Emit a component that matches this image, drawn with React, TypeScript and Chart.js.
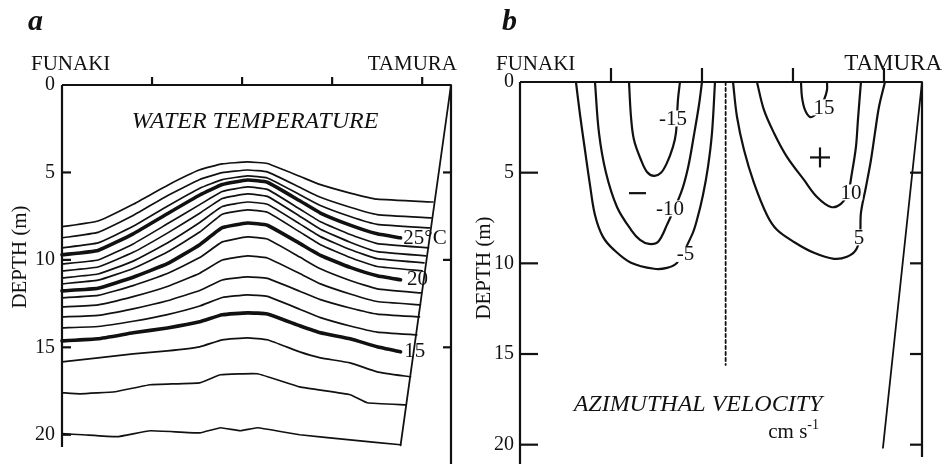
import React, { useEffect, useRef } from "react";
import { Chart, registerables } from "chart.js";

Chart.register(...registerables);

const SERIF = "'Liberation Serif', 'Times New Roman', Times, serif";
const INK = "#111111";

// ---------- shared axes ----------
const depthTicks = [0, 5, 10, 15, 20];
const sectionTicks = [1, 2, 3, 4];

// ---------- panel a : water temperature ----------
const aXMax = 4.32;
const aYMax = 20.7;
const aLeftTicks = [5, 10, 15, 20];
const aRightTicks = [5, 10, 15];
const stationX = [0, 0.4, 0.79, 1.17, 1.53, 1.78, 2.06, 2.28, 2.64, 2.87, 3.2, 3.5];

const iso28 = [8.11, 7.78, 6.82, 5.74, 4.85, 4.51, 4.4, 4.49, 5.22, 5.7, 6.18, 6.53];
const iso27 = [8.74, 8.43, 7.46, 6.33, 5.4, 5.01, 4.86, 4.97, 5.85, 6.42, 6.99, 7.41];
const iso26 = [9.31, 9.03, 8.08, 6.93, 5.9, 5.41, 5.2, 5.32, 6.27, 6.89, 7.52, 7.97];
const iso25 = [9.71, 9.46, 8.51, 7.36, 6.29, 5.69, 5.43, 5.56, 6.62, 7.32, 8.01, 8.51];
const iso24 = [10.23, 10.01, 9.09, 7.94, 6.84, 6.09, 5.83, 5.97, 7.09, 7.82, 8.55, 9.07];
const iso23 = [10.63, 10.41, 9.57, 8.47, 7.33, 6.49, 6.23, 6.37, 7.5, 8.25, 8.99, 9.53];
const iso22 = [11.03, 10.81, 10.07, 9.03, 7.86, 6.95, 6.69, 6.82, 7.94, 8.67, 9.41, 9.93];
const iso21 = [11.37, 11.16, 10.49, 9.55, 8.41, 7.39, 7.14, 7.28, 8.4, 9.13, 9.86, 10.38];
const iso20 = [11.77, 11.62, 10.99, 10.22, 9.13, 8.16, 7.89, 8.02, 9.06, 9.74, 10.43, 10.91];
const iso19 = [12.17, 12.03, 11.47, 10.78, 9.87, 8.97, 8.69, 8.81, 9.84, 10.51, 11.18, 11.66];
const iso18 = [12.69, 12.57, 12.1, 11.52, 10.76, 10.01, 9.77, 9.89, 10.78, 11.37, 11.95, 12.38];
const iso17 = [13.26, 13.17, 12.8, 12.34, 11.75, 11.15, 10.97, 11.06, 11.79, 12.27, 12.75, 13.1];
const iso16 = [13.89, 13.81, 13.51, 13.13, 12.64, 12.15, 12.0, 12.09, 12.82, 13.3, 13.78, 14.13];
const iso15 = [14.63, 14.51, 14.17, 13.89, 13.54, 13.14, 13.03, 13.09, 13.77, 14.17, 14.51, 14.97];
const iso14 = [15.83, 15.6, 15.37, 15.2, 14.97, 14.57, 14.46, 14.57, 15.26, 15.6, 15.89, 16.4];

const isoLevels = [28, 27, 26, 25, 24, 23, 22, 21, 20, 19, 18, 17, 16, 15, 14];
const isoDepths = [iso28, iso27, iso26, iso25, iso24, iso23, iso22, iso21, iso20, iso19, iso18, iso17, iso16, iso15, iso14];
const isoEndX = [4.12, 4.1, 4.08, 3.76, 4.07, 4.04, 4.02, 4.0, 3.76, 3.99, 3.98, 3.97, 3.94, 3.76, 3.87];
const isoEndD = [6.69, 7.6, 8.17, 8.74, 9.31, 9.77, 10.17, 10.63, 11.14, 11.89, 12.57, 13.26, 14.29, 15.26, 16.69];
const boldLevels = [25, 20, 15];

const iso13X = [0, 0.2, 0.59, 0.98, 1.53, 1.76, 2.17, 2.64, 3.2, 3.39, 3.82];
const iso13D = [17.6, 17.66, 17.54, 17.14, 17.03, 16.57, 16.51, 17.26, 17.71, 18.17, 18.29];
const iso12X = [0, 0.23, 0.61, 0.98, 1.53, 1.76, 1.98, 2.17, 2.64, 3.2, 3.76];
const iso12D = [19.94, 20.0, 20.11, 19.77, 19.89, 19.6, 19.77, 19.6, 20.0, 20.29, 20.57];

const slopeAX = [4.32, 3.76];
const slopeAD = [0, 20.6];

const tempLabels = ["25°C", "20", "15"];
const tempLabelX = [3.79, 3.83, 3.8];
const tempLabelD = [8.77, 11.14, 15.26];

// ---------- panel b : azimuthal velocity ----------
const bXMax = 4.418;
const bYMax = 20.9;
const bSideTicks = [5, 10, 15, 20];

const vNeg5X = [0.615, 0.66, 0.714, 0.769, 0.824, 0.912, 1.033, 1.22, 1.473, 1.615, 1.725, 1.89, 1.945, 2.011, 2.066, 2.11, 2.143];
const vNeg5D = [0, 1.82, 3.75, 5.67, 7.33, 8.54, 9.26, 9.97, 10.3, 10.25, 9.97, 8.43, 7.6, 6.23, 4.68, 2.81, 0];
const vNeg10X = [0.824, 0.868, 0.945, 1.066, 1.22, 1.319, 1.418, 1.516, 1.615, 1.769, 1.846, 1.912, 1.967, 2.0];
const vNeg10D = [0, 2.81, 5.01, 6.89, 8.15, 8.71, 8.93, 8.82, 7.88, 6.12, 4.74, 2.92, 1.27, 0];
const vNeg15X = [1.198, 1.22, 1.253, 1.33, 1.396, 1.473, 1.549, 1.615, 1.681, 1.714, 1.736, 1.758];
const vNeg15D = [0, 1.93, 3.2, 4.3, 4.96, 5.18, 5.01, 4.46, 3.58, 2.81, 0.99, 0];
const vPos5X = [2.341, 2.385, 2.462, 2.571, 2.714, 2.824, 3.011, 3.231, 3.451, 3.593, 3.692, 3.736, 3.747, 3.802, 3.857, 3.901, 3.945, 4.011];
const vPos5D = [0, 1.93, 3.75, 5.56, 7.33, 8.15, 8.82, 9.42, 9.75, 9.64, 9.26, 8.54, 7.22, 5.79, 4.3, 2.81, 1.38, 0];
const vPos10X = [2.604, 2.681, 2.791, 2.934, 3.121, 3.264, 3.418, 3.527, 3.604, 3.648, 3.692, 3.714, 3.747];
const vPos10D = [0, 1.54, 2.81, 4.13, 5.4, 6.34, 6.89, 6.72, 6.12, 5.01, 3.58, 2.09, 0];
const vPos15X = [3.088, 3.099, 3.132, 3.187, 3.242, 3.297, 3.341, 3.374, 3.374];
const vPos15D = [0, 0.83, 1.54, 1.93, 1.82, 1.43, 0.99, 0.44, 0];

const divideX = [2.26, 2.26];
const divideD = [0, 15.6];
const slopeBX = [4.418, 3.989];
const slopeBD = [0, 20.17];

const contourLabels = ["-15", "-10", "-5", "15", "10", "5"];
const contourLabelX = [1.681, 1.648, 1.819, 3.341, 3.637, 3.725];
const contourLabelD = [2.01, 6.97, 9.48, 1.4, 6.09, 8.57];

// ---------- helpers ----------
type P = { x: number; y: number };
const zip = (xs: number[], ys: number[]): P[] => xs.map((x, i) => ({ x, y: ys[i] }));

const lineDs = (pts: P[], w: number, tension: number, dash: number[] = []) => ({
  data: pts,
  showLine: true,
  borderColor: INK,
  backgroundColor: INK,
  borderWidth: w,
  pointRadius: 0,
  pointHoverRadius: 0,
  tension,
  fill: false,
  clip: false as any,
  borderDash: dash,
  borderCapStyle: "round" as const,
  borderJoinStyle: "round" as const,
});

const seg = (ctx: CanvasRenderingContext2D, x1: number, y1: number, x2: number, y2: number) => {
  ctx.beginPath();
  ctx.moveTo(x1, y1);
  ctx.lineTo(x2, y2);
  ctx.stroke();
};

const text = (
  ctx: CanvasRenderingContext2D,
  s: string,
  x: number,
  y: number,
  font: string,
  align: CanvasTextAlign = "left",
  baseline: CanvasTextBaseline = "alphabetic"
) => {
  ctx.font = font;
  ctx.textAlign = align;
  ctx.textBaseline = baseline;
  ctx.fillStyle = INK;
  ctx.fillText(s, x, y);
};

const vText = (ctx: CanvasRenderingContext2D, s: string, x: number, y: number, font: string) => {
  ctx.save();
  ctx.translate(x, y);
  ctx.rotate(-Math.PI / 2);
  text(ctx, s, 0, 0, font, "center", "middle");
  ctx.restore();
};

const yAxis = (max: number, width: number, pad: number) => ({
  type: "linear" as const,
  min: 0,
  max,
  reverse: true,
  grid: { display: false, drawTicks: false },
  border: { display: false },
  afterBuildTicks: (s: any) => {
    s.ticks = depthTicks.map((v) => ({ value: v }));
  },
  afterFit: (s: any) => {
    s.width = width;
    s.paddingTop = 0;
    s.paddingBottom = 0;
  },
  ticks: { color: INK, font: { family: SERIF, size: 20 }, padding: pad },
});

// ---------- panel a plugin ----------
const frameA = {
  id: "frameA",
  afterDraw(chart: any) {
    const { ctx, chartArea: ca } = chart;
    const xs = chart.scales.x;
    const ys = chart.scales.y;
    ctx.save();
    ctx.strokeStyle = INK;
    ctx.lineWidth = 2.2;
    seg(ctx, ca.left, ca.top, ca.right, ca.top);
    seg(ctx, ca.left, ca.top, ca.left, ca.bottom);
    seg(ctx, ca.right, ca.top, ca.right, chart.height);
    sectionTicks.forEach((v) => {
      const px = xs.getPixelForValue(v);
      seg(ctx, px, ca.top, px, ca.top - 8);
    });
    aLeftTicks.forEach((v) => {
      const py = ys.getPixelForValue(v);
      seg(ctx, ca.left, py, ca.left + 9, py);
    });
    aRightTicks.forEach((v) => {
      const py = ys.getPixelForValue(v);
      seg(ctx, ca.right, py, ca.right - 8, py);
    });

    text(ctx, "a", 28, 30, `italic bold 30px ${SERIF}`);
    text(ctx, "FUNAKI", 31, 70, `21px ${SERIF}`);
    text(ctx, "TAMURA", 457, 70, `21px ${SERIF}`, "right");
    text(ctx, "WATER TEMPERATURE", xs.getPixelForValue(2.144), ys.getPixelForValue(2.11), `italic 24px ${SERIF}`, "center", "middle");
    vText(ctx, "DEPTH (m)", 20, 257, `21px ${SERIF}`);
    tempLabels.forEach((s, i) => {
      text(ctx, s, xs.getPixelForValue(tempLabelX[i]), ys.getPixelForValue(tempLabelD[i]), `21px ${SERIF}`, "left", "middle");
    });
    ctx.restore();
  },
};

// ---------- panel b plugin ----------
const frameB = {
  id: "frameB",
  afterDraw(chart: any) {
    const { ctx, chartArea: ca } = chart;
    const xs = chart.scales.x;
    const ys = chart.scales.y;
    ctx.save();
    ctx.strokeStyle = INK;
    ctx.lineWidth = 2.2;
    seg(ctx, ca.left, ca.top, ca.right, ca.top);
    seg(ctx, ca.left, ca.top, ca.left, chart.height);
    seg(ctx, ca.right, ca.top, ca.right, ca.bottom - 4);
    sectionTicks.forEach((v) => {
      const px = xs.getPixelForValue(v);
      seg(ctx, px, ca.top, px, ca.top - 14);
    });
    bSideTicks.forEach((v) => {
      const py = ys.getPixelForValue(v);
      seg(ctx, ca.left, py, ca.left + 18, py);
      seg(ctx, ca.right, py, ca.right - 12, py);
    });

    // contour labels on white boxes
    contourLabels.forEach((s, i) => {
      const px = xs.getPixelForValue(contourLabelX[i]);
      const py = ys.getPixelForValue(contourLabelD[i]);
      ctx.font = `21px ${SERIF}`;
      const w = ctx.measureText(s).width;
      ctx.fillStyle = "#ffffff";
      ctx.fillRect(px - w / 2 - 1, py - 8, w + 2, 16);
      text(ctx, s, px, py + 1, `21px ${SERIF}`, "center", "middle");
    });

    // + and - signs
    const plx = xs.getPixelForValue(3.297);
    const ply = ys.getPixelForValue(4.16);
    seg(ctx, plx - 10, ply, plx + 10, ply);
    seg(ctx, plx, ply - 10, plx, ply + 10);
    const mnx = xs.getPixelForValue(1.291);
    const mny = ys.getPixelForValue(6.13);
    seg(ctx, mnx - 8.5, mny, mnx + 8.5, mny);

    text(ctx, "b", 28, 30, `italic bold 30px ${SERIF}`);
    text(ctx, "FUNAKI", 22, 70, `21px ${SERIF}`);
    text(ctx, "TAMURA", 468, 70, `23px ${SERIF}`, "right");
    vText(ctx, "DEPTH (m)", 10, 268, `21px ${SERIF}`);
    text(ctx, "AZIMUTHAL VELOCITY", xs.getPixelForValue(1.956), ys.getPixelForValue(17.79), `italic 24px ${SERIF}`, "center", "middle");

    // cm s^-1
    const ux = xs.getPixelForValue(3.286);
    const uy = ys.getPixelForValue(19.61);
    ctx.font = `14px ${SERIF}`;
    const w1 = ctx.measureText("-1").width;
    ctx.font = `21px ${SERIF}`;
    const w0 = ctx.measureText("cm s").width;
    text(ctx, "cm s", ux - w1 - w0, uy, `21px ${SERIF}`);
    text(ctx, "-1", ux - w1, uy - 9, `14px ${SERIF}`);
    ctx.restore();
  },
};

const baseOptions = (padding: any, xMax: number, yMax: number, yWidth: number, yPad: number) => ({
  responsive: false,
  animation: false as const,
  events: [] as any[],
  layout: { padding },
  plugins: { legend: { display: false }, tooltip: { enabled: false } },
  scales: {
    x: { type: "linear" as const, min: 0, max: xMax, display: false },
    y: yAxis(yMax, yWidth, yPad),
  },
});

function configA(): any {
  const datasets: any[] = [];
  isoLevels.forEach((lv, i) => {
    const pts = zip(stationX, isoDepths[i]);
    pts.push({ x: isoEndX[i], y: isoEndD[i] });
    datasets.push(lineDs(pts, boldLevels.includes(lv) ? 3.6 : 1.7, 0.12));
  });
  datasets.push(lineDs(zip(iso13X, iso13D), 1.7, 0.1));
  datasets.push(lineDs(zip(iso12X, iso12D), 1.7, 0.1));
  datasets.push(lineDs(zip(slopeAX, slopeAD), 1.8, 0));
  return {
    type: "scatter",
    data: { datasets },
    options: baseOptions({ left: 0, right: 23, top: 85, bottom: 17 }, aXMax, aYMax, 62, 7),
    plugins: [frameA],
  };
}

function configB(): any {
  const datasets: any[] = [
    lineDs(zip(vNeg5X, vNeg5D), 2.2, 0.35),
    lineDs(zip(vNeg10X, vNeg10D), 2.2, 0.35),
    lineDs(zip(vNeg15X, vNeg15D), 2.2, 0.35),
    lineDs(zip(vPos5X, vPos5D), 2.2, 0.35),
    lineDs(zip(vPos10X, vPos10D), 2.2, 0.35),
    lineDs(zip(vPos15X, vPos15D), 2.2, 0.35),
    lineDs(zip(divideX, divideD), 1.8, 0, [3, 3]),
    lineDs(zip(slopeBX, slopeBD), 1.8, 0),
  ];
  return {
    type: "scatter",
    data: { datasets },
    options: baseOptions({ left: 0, right: 26, top: 82, bottom: 3 }, bXMax, bYMax, 46, 6),
    plugins: [frameB],
  };
}

function Panel({ make, left }: { make: () => any; left: number }) {
  const ref = useRef<HTMLCanvasElement>(null);
  useEffect(() => {
    const chart = new Chart(ref.current as HTMLCanvasElement, make());
    return () => chart.destroy();
  }, [make]);
  return (
    <canvas
      ref={ref}
      width={474}
      height={464}
      style={{ position: "absolute", left, top: 0, width: 474, height: 464, display: "block" }}
    />
  );
}

export default function App() {
  return (
    <div style={{ position: "absolute", left: 0, top: 0, width: 948, height: 464, background: "#ffffff", overflow: "hidden" }}>
      <Panel make={configA} left={0} />
      <Panel make={configB} left={474} />
    </div>
  );
}
